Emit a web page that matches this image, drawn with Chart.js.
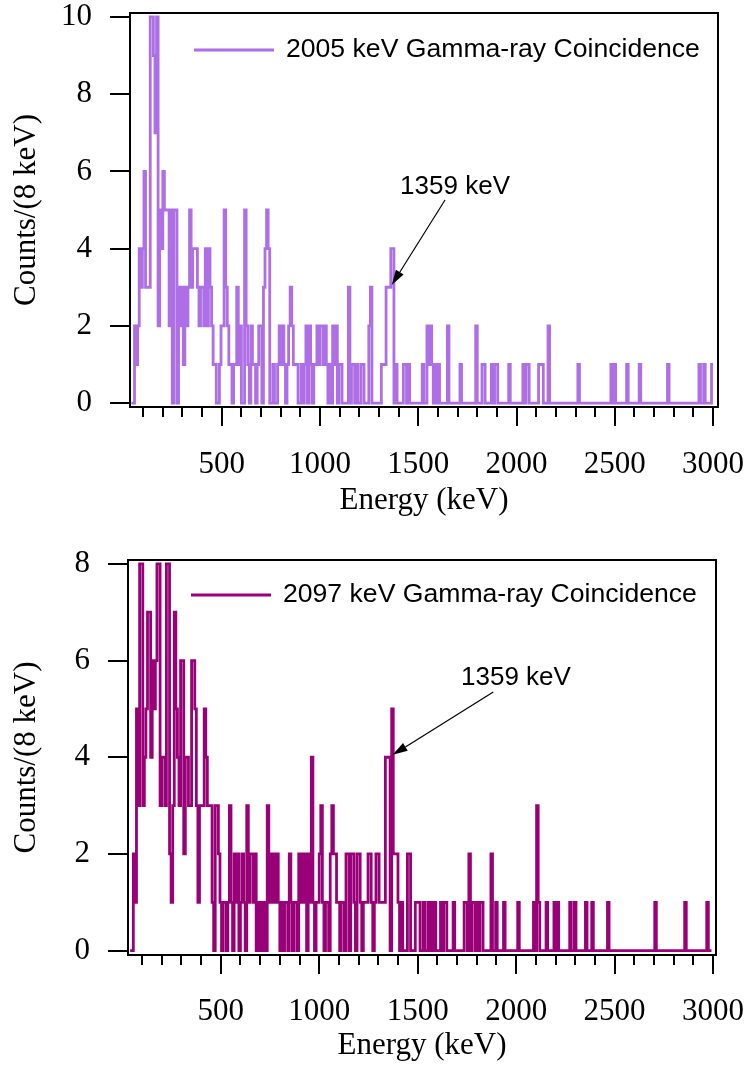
<!DOCTYPE html>
<html>
<head>
<meta charset="utf-8">
<script src="https://cdn.jsdelivr.net/npm/chart.js@4.4.1/dist/chart.umd.min.js"></script>
<style>
  html, body { margin: 0; padding: 0; background: #fff; }
  #wrap { position: relative; width: 749px; height: 1065px; }
  canvas { position: absolute; left: 0; }
</style>
</head>
<body>
<div id="wrap">
  <canvas id="upper" width="749" height="530" style="top:0px"></canvas>
  <canvas id="lower" width="749" height="535" style="top:530px"></canvas>
</div>
<script>
// Histogram binning: 8 keV bins, first bin starts at 40 keV
const BIN_START = 40;
const BIN_WIDTH = 8;

// Counts per 8 keV bin, spectrum gated on the 2005 keV gamma ray
const counts2005 = [
  0,0,2,1,2,4,3,4,6,3,3,3,10,10,9,7,10,2,5,4,
  6,5,5,5,2,5,0,5,5,0,3,2,3,1,3,2,3,5,3,4,
  4,4,3,2,3,3,2,4,2,4,3,2,1,1,0,0,1,2,2,5,
  3,2,1,1,0,1,1,3,1,2,0,0,5,2,1,0,2,1,1,0,
  1,2,2,0,3,4,5,4,0,0,1,0,0,1,2,1,2,1,0,1,
  2,3,2,1,1,1,0,0,1,0,1,2,0,2,1,0,1,1,2,1,
  2,2,1,2,1,0,1,0,2,1,2,0,1,1,0,0,0,0,3,0,
  1,1,0,1,0,0,1,1,0,0,0,2,3,0,0,0,0,0,0,1,
  1,1,3,3,3,4,4,0,1,0,0,0,0,1,1,0,1,0,0,0,
  0,0,0,0,0,1,0,0,2,1,2,1,0,1,0,1,0,0,0,0,
  0,2,0,0,0,0,0,0,0,1,0,0,0,0,0,0,0,0,0,2,
  0,0,0,1,1,0,0,0,0,1,0,1,1,0,0,0,0,0,0,0,
  1,0,0,0,0,0,0,0,0,1,0,1,1,0,0,0,0,0,0,1,
  1,1,0,0,0,2,0,0,0,0,0,0,0,0,0,0,0,0,0,0,
  0,0,0,0,1,0,0,0,0,0,0,0,0,0,0,0,0,0,0,0,
  0,0,0,0,0,1,0,1,0,0,0,0,0,0,0,1,0,0,0,0,
  0,0,0,1,0,0,0,0,0,0,0,0,0,0,0,0,0,0,0,0,
  0,1,0,0,0,0,0,0,0,0,0,0,0,0,0,0,0,0,0,0,
  0,1,0,0,1,0,0,0,0,1
];

// Counts per 8 keV bin, spectrum gated on the 2097 keV gamma ray
const counts2097 = [
  0,0,2,1,5,3,8,8,3,4,5,7,7,4,6,5,6,8,8,3,
  4,4,3,8,8,2,1,3,7,5,4,3,6,6,2,4,4,3,3,6,
  6,5,3,1,3,3,3,5,4,3,3,3,1,0,3,3,2,1,0,1,
  1,0,1,3,1,0,2,1,2,0,1,2,1,0,3,1,2,2,1,2,
  0,1,0,1,0,1,0,3,1,2,1,2,1,2,1,0,1,0,1,1,
  0,2,1,0,1,1,0,2,1,2,1,2,0,2,1,4,1,0,1,1,
  2,3,1,0,1,1,0,2,3,2,2,1,1,0,1,1,0,2,2,0,
  2,2,1,0,2,2,1,0,1,1,1,2,2,1,0,1,2,2,1,1,
  1,1,4,4,4,0,5,2,2,2,1,0,1,0,0,0,2,2,0,0,
  0,1,1,1,0,0,1,0,0,1,0,1,0,1,0,0,0,1,0,1,
  1,0,0,0,0,1,0,0,0,0,0,0,1,1,0,2,0,1,1,0,
  1,0,1,1,0,0,0,0,0,2,0,0,1,0,0,0,0,1,0,0,
  0,0,0,0,0,0,1,0,0,0,0,0,0,0,0,0,1,0,3,1,
  0,0,0,0,1,0,0,0,0,1,0,1,0,0,0,0,0,0,0,1,
  0,0,1,0,0,0,0,0,0,1,0,0,0,1,0,0,0,0,0,0,
  0,0,0,1,0,0,0,0,0,0,0,0,0,0,0,0,0,0,0,0,
  0,0,0,0,0,0,0,0,0,0,0,0,0,1,0,0,0,0,0,0,
  0,0,0,0,0,0,0,0,0,0,0,0,1,0,0,0,0,0,0,0,
  0,0,0,0,0,0,1,0,0
];

// Axis ticks and texts
const energyTicks = [500, 1000, 1500, 2000, 2500, 3000];
const countTicks2005 = [0, 2, 4, 6, 8, 10];
const countTicks2097 = [0, 2, 4, 6, 8];
const label2005 = '2005 keV Gamma-ray Coincidence';
const label2097 = '2097 keV Gamma-ray Coincidence';
const peakText = '1359 keV';
const xTitle = 'Energy (keV)';
const yTitle = 'Counts/(8 keV)';

const SERIF = "'Liberation Serif', 'Times New Roman', serif";
const SANS = "'Liberation Sans', Arial, sans-serif";
const LINE_WIDTH = 2.8;

Chart.defaults.color = '#000';

// Turn bin counts into step-line vertices at the bin edges
function histogramPoints(counts) {
  const pts = counts.map((c, i) => ({ x: BIN_START + i * BIN_WIDTH, y: c }));
  pts.push({ x: BIN_START + counts.length * BIN_WIDTH, y: counts[counts.length - 1] });
  return pts;
}

// Box frame, outward ticks, in-plot legend and peak arrow
const decorations = {
  id: 'decorations',
  afterDraw(chart, args, opts) {
    const { ctx, chartArea: a, scales: { x, y } } = chart;
    ctx.save();
    ctx.strokeStyle = '#000';
    ctx.lineWidth = 2;
    ctx.strokeRect(a.left, a.top, a.right - a.left, a.bottom - a.top);

    ctx.beginPath();
    for (let e = 100; e <= 3000; e += 100) {
      const px = Math.round(x.getPixelForValue(e));
      const len = (e % 500 === 0) ? 19 : 10;
      ctx.moveTo(px, a.bottom);
      ctx.lineTo(px, a.bottom + len);
    }
    for (const v of opts.yTicks) {
      const py = Math.round(y.getPixelForValue(v));
      ctx.moveTo(a.left - 20, py);
      ctx.lineTo(a.left, py);
    }
    ctx.stroke();

    // legend entry
    const ds = chart.data.datasets[0];
    const ly = a.top + opts.legendDy;
    ctx.strokeStyle = ds.borderColor;
    ctx.lineWidth = LINE_WIDTH;
    ctx.beginPath();
    ctx.moveTo(a.left + opts.legendDx, ly);
    ctx.lineTo(a.left + opts.legendDx + 80, ly);
    ctx.stroke();
    ctx.fillStyle = '#000';
    ctx.font = '26.6px ' + SANS;
    ctx.textAlign = 'left';
    ctx.textBaseline = 'middle';
    ctx.fillText(ds.label, a.left + opts.legendDx + 92, ly);

    // peak annotation
    const p = opts.peak;
    const lx = x.getPixelForValue(p.label[0]), lyy = y.getPixelForValue(p.label[1]);
    ctx.font = '26px ' + SANS;
    ctx.textAlign = 'center';
    ctx.fillText(peakText, lx, lyy);
    const tx = x.getPixelForValue(p.tail[0]), ty = y.getPixelForValue(p.tail[1]);
    const hx = x.getPixelForValue(p.tip[0]), hy = y.getPixelForValue(p.tip[1]);
    const ang = Math.atan2(hy - ty, hx - tx);
    const headLen = 15, headHalf = 4.5;
    const bx = hx - headLen * Math.cos(ang), by = hy - headLen * Math.sin(ang);
    ctx.strokeStyle = '#000';
    ctx.lineWidth = 1.2;
    ctx.beginPath();
    ctx.moveTo(tx, ty);
    ctx.lineTo(bx, by);
    ctx.stroke();
    ctx.beginPath();
    ctx.moveTo(hx, hy);
    ctx.lineTo(bx + headHalf * Math.sin(ang), by - headHalf * Math.cos(ang));
    ctx.lineTo(bx - headHalf * Math.sin(ang), by + headHalf * Math.cos(ang));
    ctx.closePath();
    ctx.fill();
    ctx.restore();
  }
};

function makeChart(canvasId, cfg) {
  return new Chart(document.getElementById(canvasId), {
    type: 'line',
    data: {
      datasets: [{
        label: cfg.label,
        data: histogramPoints(cfg.counts),
        stepped: true,
        borderColor: cfg.color,
        borderWidth: LINE_WIDTH,
        pointRadius: 0,
        fill: false
      }]
    },
    options: {
      responsive: false,
      animation: false,
      events: [],
      layout: { padding: { left: 0, top: cfg.padTop, right: cfg.padRight, bottom: 0 } },
      plugins: {
        legend: { display: false },
        tooltip: { enabled: false },
        decorations: { yTicks: cfg.yTicks, legendDx: cfg.legendDx, legendDy: cfg.legendDy, peak: cfg.peak }
      },
      scales: {
        x: {
          type: 'linear',
          min: cfg.xMin, max: cfg.xMax,
          grid: { display: false },
          border: { display: false },
          afterBuildTicks: s => { s.ticks = energyTicks.map(v => ({ value: v })); },
          afterFit: s => { s.height = cfg.xHeight; s.paddingLeft = 0; s.paddingRight = 0; s.paddingTop = 0; s.paddingBottom = 0; },
          ticks: {
            autoSkip: false, maxRotation: 0, minRotation: 0,
            padding: cfg.xLabelPad,
            font: { family: SERIF, size: 31 },
            color: '#000',
            callback: v => String(v)
          },
          title: {
            display: true, text: xTitle,
            font: { family: SERIF, size: 31 }, color: '#000',
            padding: { top: 0, bottom: cfg.xTitlePad }
          }
        },
        y: {
          type: 'linear',
          min: cfg.yMin, max: cfg.yMax,
          grid: { display: false },
          border: { display: false },
          afterBuildTicks: s => { s.ticks = cfg.yTicks.map(v => ({ value: v })); },
          afterFit: s => { s.width = cfg.yWidth; s.paddingTop = 0; s.paddingBottom = 0; s.paddingLeft = 0; s.paddingRight = 0; },
          ticks: {
            autoSkip: false,
            padding: 30,
            font: { family: SERIF, size: 31 },
            color: '#000',
            callback: v => String(v)
          },
          title: {
            display: true, text: yTitle,
            font: { family: SERIF, size: 31 }, color: '#000',
            padding: { top: 8, bottom: 0 }
          }
        }
      }
    },
    plugins: [decorations]
  });
}

makeChart('upper', {
  label: label2005, counts: counts2005, color: '#AE6FE6',
  xMin: 33, xMax: 3025, yMin: -0.1, yMax: 10.1, yTicks: countTicks2005,
  padTop: 13, padRight: 31, xHeight: 123, yWidth: 130,
  xLabelPad: 31, xTitlePad: 11,
  legendDx: 64, legendDy: 37,
  peak: { label: [1687, 5.59], tail: [1636, 5.26], tip: [1365, 3.06] }
});

makeChart('lower', {
  label: label2097, counts: counts2097, color: '#990078',
  xMin: 29, xMax: 3015, yMin: -0.09, yMax: 8.08, yTicks: countTicks2097,
  padTop: 30, padRight: 33, xHeight: 110, yWidth: 128,
  xLabelPad: 30, xTitlePad: 1,
  legendDx: 63, legendDy: 35,
  peak: { label: [1999, 5.65], tail: [1884, 5.35], tip: [1373, 4.05] }
});
</script>
</body>
</html>
